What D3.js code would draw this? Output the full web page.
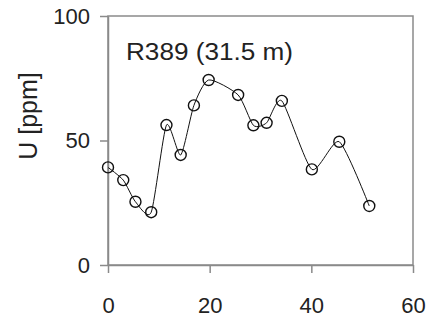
<!DOCTYPE html>
<html>
<head>
<meta charset="utf-8">
<script src="https://cdn.jsdelivr.net/npm/d3@7"></script>
<style>
  body { margin: 0; background: #fff; }
  text { font-family: "Liberation Sans", Arial, sans-serif; fill: #222; }
</style>
</head>
<body>
<svg id="chart"></svg>
<script>
// depth along core vs uranium concentration
const depth = [0, 3.0, 5.4, 8.5, 11.5, 14.3, 16.9, 19.8, 25.6, 28.6, 31.2, 34.2, 40.1, 45.5, 51.4];
const uranium = [39.2, 34.1, 25.4, 21.2, 56.2, 44.2, 64.1, 74.3, 68.3, 56.1, 57.1, 65.9, 38.4, 49.5, 23.7];
const xTicks = [0, 20, 40, 60];
const yTicks = [0, 50, 100];
const title = 'R389 (31.5 m)';
const yLabel = 'U [ppm]';

const width = 428, height = 321;
const margin = { top: 16, right: 15, bottom: 56, left: 108 };
const axisGrey = '#8a8a8a';

const svg = d3.select('#chart').attr('width', width).attr('height', height);

const x = d3.scaleLinear().domain([0, 60]).range([margin.left, width - margin.right]);
const y = d3.scaleLinear().domain([0, 100]).range([height - margin.bottom, margin.top]);

// frame (top + right)
svg.append('rect')
  .attr('x', x(0)).attr('y', y(100))
  .attr('width', x(60) - x(0)).attr('height', y(0) - y(100))
  .style('fill', 'none').style('stroke', axisGrey).style('stroke-width', 1.5);

// axes
const xAxis = svg.append('g')
  .attr('transform', `translate(0,${y(0)})`)
  .call(d3.axisBottom(x).tickValues(xTicks).tickSize(8).tickSizeOuter(0).tickPadding(24));
const yAxis = svg.append('g')
  .attr('transform', `translate(${x(0)},0)`)
  .call(d3.axisLeft(y).tickValues(yTicks).tickSize(8).tickSizeOuter(0).tickPadding(10));

[xAxis, yAxis].forEach((g) => {
  g.select('.domain').style('stroke', axisGrey).style('stroke-width', 1.5);
  g.selectAll('.tick line').style('stroke', axisGrey).style('stroke-width', 1.5);
  g.selectAll('.tick text').style('font-size', '22px').style('fill', '#222')
    .attr('font-family', '"Liberation Sans", Arial, sans-serif');
});

// smoothed data line (mild smoothing)
const pts = depth.map((d, i) => [d, uranium[i]]);
const line = d3.line()
  .x((d) => x(d[0]))
  .y((d) => y(d[1]))
  .curve(d3.curveCardinal.tension(0.35));

svg.append('path')
  .datum(pts)
  .attr('d', line)
  .style('fill', 'none')
  .style('stroke', '#111')
  .style('stroke-width', 1);

// open circle markers
svg.selectAll('circle.pt')
  .data(pts)
  .enter()
  .append('circle')
  .attr('class', 'pt')
  .attr('cx', (d) => x(d[0]))
  .attr('cy', (d) => y(d[1]))
  .attr('r', 5.5)
  .style('fill', 'none')
  .style('stroke', '#111')
  .style('stroke-width', 1.4);

// title inside the plot, a bit wide like the original
svg.append('text')
  .attr('x', 126)
  .attr('y', 60)
  .attr('textLength', 167)
  .attr('lengthAdjust', 'spacingAndGlyphs')
  .text(title)
  .style('font-size', '23px');

// y label
svg.append('text')
  .attr('transform', 'translate(37, 116) rotate(-90)')
  .attr('text-anchor', 'middle')
  .text(yLabel)
  .style('font-size', '25px');
</script>
</body>
</html>
